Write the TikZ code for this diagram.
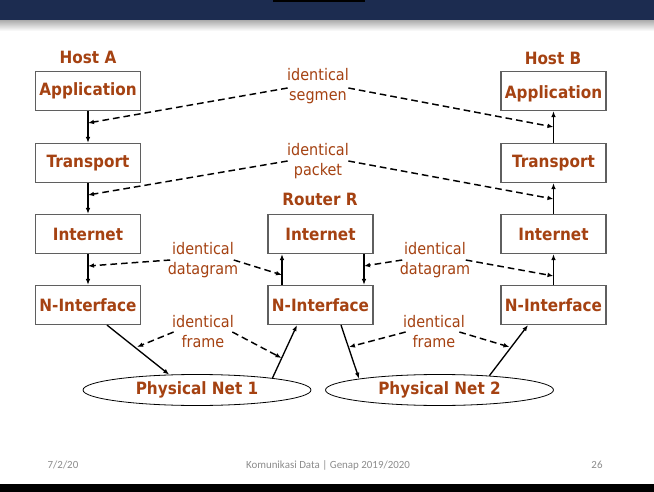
\documentclass[tikz,border=0pt]{standalone}
\usepackage{fontspec}
\setmainfont{DejaVu Sans}[FakeStretch=0.9]
\newfontfamily\footfont{Carlito}
\usetikzlibrary{arrows.meta,shapes.geometric,calc}
\definecolor{txt}{RGB}{165,66,18}
\definecolor{navy}{RGB}{28,44,80}
\definecolor{boxline}{RGB}{95,95,95}
\definecolor{foot}{RGB}{140,140,140}
\begin{document}
\begin{tikzpicture}[x=0.75pt,y=-0.75pt,
  every node/.style={font=\fontsize{12}{15}\selectfont, text=txt},
  bfont/.style={font=\bfseries\fontsize{12.7}{15}\selectfont},
  layer/.style={bfont, draw=boxline, line width=0.9pt, fill=white, minimum width=78.75pt, minimum height=29.25pt, inner sep=0pt},
  lowtext/.style={text height=14pt, text depth=3pt},
  title/.style={bfont},
  lab/.style={align=center, inner sep=1pt},
  net/.style={bfont, ellipse, draw=black, line width=0.6pt, fill=white, inner sep=0pt, minimum width=171pt, minimum height=23.25pt},
  arr/.style={line width=1pt, -{Latex[length=4.5pt,width=3.5pt]}},
  dsh/.style={line width=1.1pt, dash pattern=on 5pt off 3pt, -{Latex[length=4.5pt,width=3.5pt]}},
  foottext/.style={font=\footfont\fontsize{8.2}{10}\selectfont, text=foot}
]
\useasboundingbox (0,0) rectangle (654,492);
\fill[white] (0,0) rectangle (654,492);
% slide frame
\fill[navy] (0,0) rectangle (654,21);
\fill[black] (273,0) rectangle (365,2.5);
\shade[top color=black!30, bottom color=white] (0,21) rectangle (654,31);
\fill[black] (0,484) rectangle (654,492);

% titles
\node[title] (hA) at (88,57) {Host A};
\node[title] (hB) at (553,58) {Host B};
\node[title] (rR) at (320,199) {Router R};

% layers
\node[layer] (apA) at (88,91) {Application};
\node[layer] (trA) at (88,163) {Transport};
\node[layer] (inA) at (88,234) {Internet};
\node[layer] (niA) at (88,305) {N-Interface};
\node[layer] (inR) at (320.5,234) {Internet};
\node[layer] (niR) at (320.5,305) {N-Interface};
\node[layer,lowtext] (apB) at (553.5,91) {Application};
\node[layer] (trB) at (553.5,163) {Transport};
\node[layer] (inB) at (553.5,234) {Internet};
\node[layer] (niB) at (553.5,305) {N-Interface};

% networks
\node[net] (pn1) at (197,390) {Physical Net 1};
\node[net] (pn2) at (439.5,390) {Physical Net 2};

% labels
\node[lab] (seg) at (318,86) {identical\\segmen};
\node[lab] (pkt) at (318,161) {identical\\packet};
\node[lab] (dgL) at (203,260) {identical\\datagram};
\node[lab] (dgR) at (435,260) {identical\\datagram};
\node[lab] (frL) at (203,332) {identical\\frame};
\node[lab] (frR) at (434,332) {identical\\frame};

% vertical arrows
\draw[arr] (apA) -- (trA);
\draw[arr] (trA) -- (inA);
\draw[arr] (inA) -- (niA);
\draw[arr] (niB) -- (inB);
\draw[arr] (inB) -- (trB);
\draw[arr] (trB) -- (apB);
\coordinate (rl) at (282,0);
\coordinate (rr) at (364,0);
\draw[arr] (niR.north -| rl) -- (inR.south -| rl);
\draw[arr] (inR.south -| rr) -- (niR.north -| rr);

% diagonal links
\draw[arr] ($(niA.south)+(19,0)$) -- (pn1.151);
\draw[arr] (pn1.9) -- ($(niR.south)+(-23.5,0)$);
\draw[arr] ($(niR.south)+(20.5,0)$) -- (pn2.172);
\draw[arr] (pn2.16) -- ($(niB.south)+(-25.5,0)$);

% dashed end points
\coordinate (segA) at (88,123);
\coordinate (segB) at (553.5,127);
\coordinate (pktA) at (88,195);
\coordinate (pktB) at (553.5,199);
\coordinate (dgLA) at (88,266);
\coordinate (dgLB) at (282,275);
\coordinate (dgRA) at (364,266);
\coordinate (dgRB) at (553.5,276);
\coordinate (frLA) at (137,347);
\coordinate (frLB) at (281.5,358);
\coordinate (frRA) at (349,347);
\coordinate (frRB) at (509.5,347);

\draw[dsh] ($(seg.west)+(2,2)$) -- (segA);
\draw[dsh] ($(seg.east)+(-2,2)$) -- (segB);
\draw[dsh] ($(pkt.west)+(2,0)$) -- (pktA);
\draw[dsh] ($(pkt.east)+(-2,0)$) -- (pktB);
\draw[dsh] ($(dgL.west)+(4,0)$) -- (dgLA);
\draw[dsh] ($(dgL.east)+(-6,0)$) -- (dgLB);
\draw[dsh] ($(dgR.west)+(4,0)$) -- (dgRA);
\draw[dsh] ($(dgR.east)+(-6,0)$) -- (dgRB);
\draw[dsh] ($(frL.west)+(3,0)$) -- (frLA);
\draw[dsh] ($(frL.east)+(-3,0)$) -- (frLB);
\draw[dsh] ($(frR.west)+(4,0)$) -- (frRA);
\draw[dsh] ($(frR.east)+(-7,0)$) -- (frRB);

% footer
\node[foottext] (f1) at (63,465) {7/2/20};
\node[foottext] (f2) at (328,465) {Komunikasi Data | Genap 2019/2020};
\node[foottext] (f3) at (597,465) {26};
\end{tikzpicture}
\end{document}
